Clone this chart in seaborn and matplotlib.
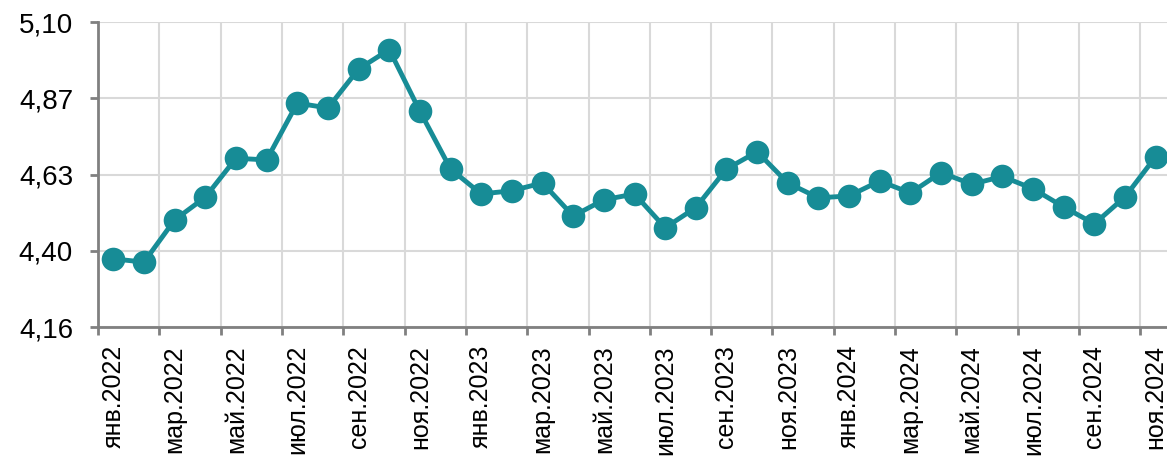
import numpy as np
import pandas as pd
import matplotlib.pyplot as plt
import seaborn as sns

# monthly values, Jan 2022 .. Nov 2024
months = ['янв', 'фев', 'мар', 'апр', 'май', 'июн',
          'июл', 'авг', 'сен', 'окт', 'ноя', 'дек']
years = [2022] * 12 + [2023] * 12 + [2024] * 11
values = [4.37, 4.36, 4.49, 4.56, 4.68, 4.675, 4.85, 4.835, 4.955, 5.015, 4.825, 4.647,
          4.57, 4.58, 4.604, 4.502, 4.552, 4.57, 4.466, 4.528, 4.647, 4.70,
          4.604, 4.558, 4.564, 4.61, 4.573, 4.636, 4.600, 4.624, 4.586, 4.53, 4.478, 4.561, 4.685]
y_ticks = [4.16, 4.395, 4.63, 4.865, 5.10]
y_tick_labels = ['4,16', '4,40', '4,63', '4,87', '5,10']

labels = [f'{months[i % 12]}.{years[i]}' for i in range(len(values))]
df = pd.DataFrame({'idx': range(len(values)), 'value': values, 'label': labels})

sns.set_theme(style="white")
plt.rcParams['font.family'] = ['Liberation Sans', 'DejaVu Sans']

fig = plt.figure(figsize=(11.67, 4.73), dpi=100)
ax = fig.add_axes([98 / 1167, 1 - 327 / 473, 1073 / 1167, 305 / 473])

color = '#178C96'
sns.lineplot(data=df, x='idx', y='value', ax=ax, color=color, linewidth=3.5,
             marker='o', markersize=17, markeredgewidth=0, zorder=3)

ax.set_xlim(-0.5, len(values) - 0.5)
ax.set_ylim(y_ticks[0], y_ticks[-1])

# gridlines / tick marks on category boundaries every 2 months, labels at centres
ax.set_xticks(np.arange(-0.5, len(values), 2))
ax.set_xticklabels([])
ax.set_xticks(np.arange(0, len(values), 2), minor=True)
ax.set_xticklabels(labels[::2], minor=True, rotation=90, va='top', ha='center', fontsize=18)
ax.tick_params(axis='x', which='major', direction='out', length=6, width=2,
               color='#808080', bottom=True)
ax.tick_params(axis='x', which='minor', length=0, pad=13, labelcolor='black')

ax.set_yticks(y_ticks)
ax.set_yticklabels(y_tick_labels)
ax.tick_params(axis='y', direction='out', length=6, width=2, color='#808080',
               left=True, labelsize=20, pad=12, labelcolor='black')

ax.grid(True, which='major', color='#d9d9d9', linewidth=1.5)
ax.set_axisbelow(True)
ax.set_xlabel('')
ax.set_ylabel('')

for side in ['top', 'right']:
    ax.spines[side].set_visible(False)
for side in ['left', 'bottom']:
    ax.spines[side].set_color('#808080')
    ax.spines[side].set_linewidth(2)

fig.savefig('out.png', dpi=100)
